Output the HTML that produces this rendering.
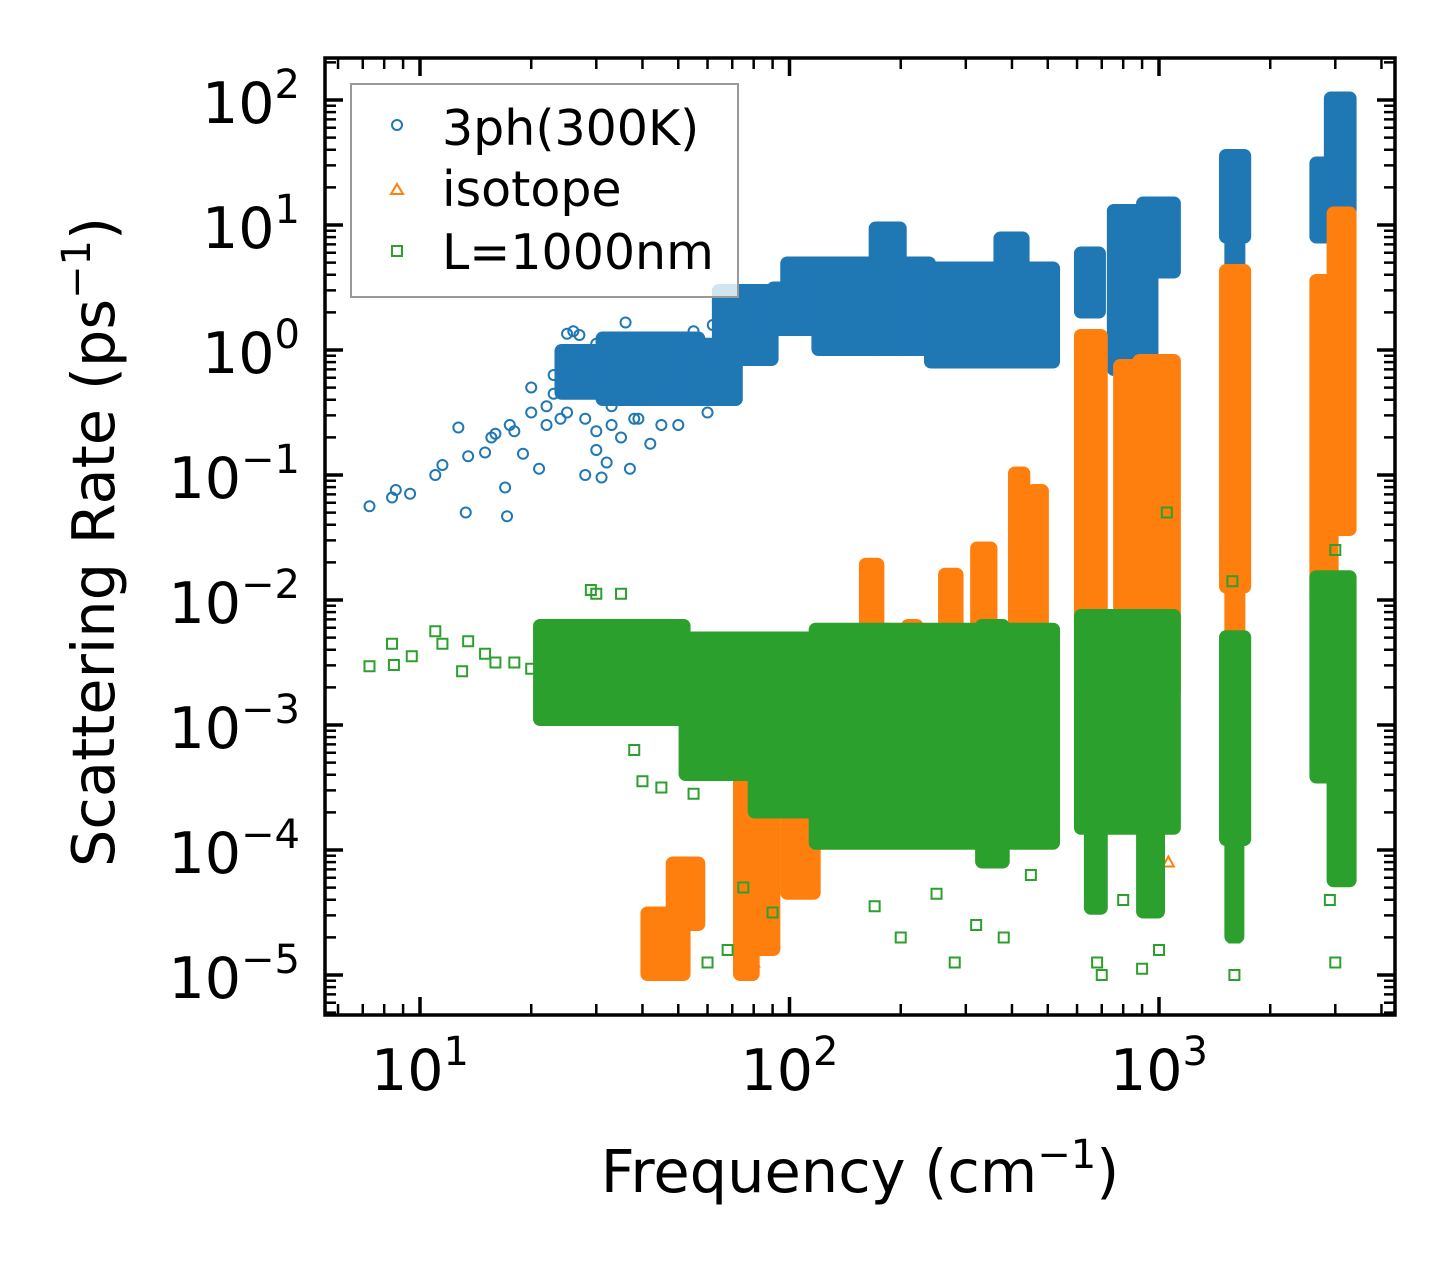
<!DOCTYPE html>
<html><head><meta charset="utf-8"><style>
html,body{margin:0;padding:0;background:#fff;}
svg{display:block;font-family:"DejaVu Sans","Liberation Sans",sans-serif;}
</style></head><body>
<svg id="chart" width="1455" height="1265" viewBox="0 0 1455 1265" xmlns="http://www.w3.org/2000/svg">
<rect x="0" y="0" width="1455" height="1265" fill="#fff"/>
<g id="marks"></g>
<g id="axes"></g>
<g>
<rect x="351" y="84" width="387" height="213" fill="#fff" fill-opacity="0.8" stroke="#999" stroke-width="2"/>
<circle cx="397" cy="125" r="5" fill="none" stroke="#1f77b4" stroke-width="2"/>
<text x="442" y="145" font-size="49">3ph(300K)</text>
<polygon points="397,184 403,194 391,194" fill="none" stroke="#ff7f0e" stroke-width="2"/>
<text x="442" y="206" font-size="49">isotope</text>
<rect x="392" y="246" width="10" height="10" fill="none" stroke="#2ca02c" stroke-width="2"/>
<text x="442" y="269" font-size="49">L=1000nm</text>
</g>
<text x="860" y="1192" font-size="59" text-anchor="middle">Frequency (cm<tspan dy="-24" font-size="40">−1</tspan><tspan dy="24">)</tspan></text>
<text transform="translate(114,542) rotate(-90)" font-size="59" text-anchor="middle">Scattering Rate (ps<tspan dy="-24" font-size="40">−1</tspan><tspan dy="24">)</tspan></text>
</svg>
<script>
// ---- data: [freqLo, freqHi, log10RateLo, log10RateHi] for dense regions; [freq, log10Rate] for isolated points ----
const blueBands = [[24,31,-0.35,0.0],[31,57,-0.4,0.1],[55,72,-0.4,0.05],[64,90,-0.08,0.48],[90,102,0.16,0.5],[98,119,0.16,0.7],[119,240,0.0,0.7],[170,200,0.0,0.98],[240,520,-0.1,0.66],[370,430,0.0,0.9],[611,692,0.3,0.78],[750,900,-0.16,1.12],[900,1104,0.62,1.18],[905,960,-0.38,0.6],[1509,1711,0.9,1.56],[1560,1650,0.54,0.9],[2900,3300,1.1,2.02],[2650,2950,0.9,1.5]];
const bluePoints = [[7.3,-1.25],[8.4,-1.18],[8.6,-1.12],[9.4,-1.15],[11,-1.0],[11.5,-0.92],[12.7,-0.62],[13.3,-1.3],[13.5,-0.85],[15,-0.82],[15.6,-0.7],[16,-0.67],[17,-1.1],[17.2,-1.33],[17.5,-0.6],[18,-0.65],[19,-0.83],[20,-0.5],[21,-0.95],[22,-0.6],[23,-0.35],[24,-0.55],[25,-0.25],[26,0.15],[27,-0.1],[28,-1.0],[30,-0.8],[31,-1.02],[32,-0.9],[33,-0.6],[35,-0.4],[37,-0.95],[39,-0.55],[42,-0.75],[45,-0.3],[50,-0.6],[58,-0.2],[62,0.2],[70,0.45],[20,-0.3],[22,-0.45],[23,-0.2],[25,-0.5],[27,-0.3],[28,-0.55],[30,-0.65],[33,-0.45],[35,-0.7],[38,-0.55],[25,0.13],[27,0.12],[30,0.05],[36,0.22],[55,0.15],[60,-0.5],[45,-0.6]];
const orangeBands = [[41,52,-5,-4.5],[48,57,-4.6,-4.1],[73,80,-5,-3.33],[83,91,-4.8,-3.6],[98,117,-4.35,-3.6],[160,174,-3.5,-1.71],[175,186,-3.2,-2.23],[208,222,-3.2,-2.2],[262,285,-3.0,-1.79],[320,352,-3.0,-1.58],[405,432,-3.0,-0.98],[455,485,-3.0,-1.12],[611,700,-2.73,0.12],[780,860,-2.73,-0.12],[880,1104,-2.73,-0.08],[1509,1711,-1.9,0.64],[1560,1650,-2.3,-1.9],[2650,2950,-2.0,0.56],[2950,3300,-1.44,1.1]];
const orangePoints = [[1060,-4.1],[3000,-1.8],[1600,-1.55],[2950,-1.0],[80,-4.9],[76,-4.7]];
const greenBands = [[21,52,-2.96,-2.2],[52,80,-3.4,-2.3],[80,117,-3.7,-2.3],[117,520,-3.95,-2.23],[330,380,-4.1,-2.2],[611,1104,-3.83,-2.12],[650,700,-4.47,-3.8],[900,1000,-4.5,-3.8],[1509,1711,-3.92,-2.29],[1560,1640,-4.7,-3.9],[2650,3300,-3.42,-1.81],[2950,3300,-4.25,-3.4]];
const greenPoints = [[7.3,-2.53],[8.4,-2.35],[8.5,-2.52],[9.5,-2.45],[11,-2.25],[11.5,-2.35],[13,-2.57],[13.5,-2.33],[15,-2.43],[16,-2.5],[18,-2.5],[20,-2.55],[22,-2.2],[24,-2.9],[29,-1.92],[30,-1.95],[35,-1.95],[38,-3.2],[40,-3.45],[45,-3.5],[55,-3.55],[60,-4.9],[68,-4.8],[75,-4.3],[90,-4.5],[120,-3.9],[170,-4.45],[200,-4.7],[250,-4.35],[280,-4.9],[320,-4.6],[380,-4.7],[680,-4.9],[700,-5.0],[800,-4.4],[900,-4.95],[1000,-4.8],[1050,-1.3],[1600,-5.0],[1600,-4.7],[3000,-4.9],[2900,-4.4],[450,-4.2],[1580,-1.85],[3000,-1.6]];
const xTicks = [1,2,3];
const yTicks = [2,1,0,-1,-2,-3,-4,-5];

const L=325,R=1395,T=58,B=1015;
function X(f){return 420+369.5*Math.log10(f/10);}
function Y(lg){return 350-125*lg;}
const NS="http://www.w3.org/2000/svg";
const marks=document.getElementById('marks'), axes=document.getElementById('axes');
function mk(tag,attrs,parent){const e=document.createElementNS(NS,tag);for(const k in attrs)e.setAttribute(k,attrs[k]);parent.appendChild(e);return e;}

function drawSeries(bands,points,color,shape,name){
  const g=mk('g',{},marks);
  
  
  bands.forEach(b=>{
    const x1=X(b[0])-6,x2=X(b[1])+6,y1=Y(b[3])-6,y2=Y(b[2])+6;
    const r=mk('rect',{x:x1,y:y1,width:x2-x1,height:y2-y1,rx:7,fill:color},g);
    
    
  });
  points.forEach(p=>{
    const cx=X(p[0]),cy=Y(p[1]);let e;
    if(shape==='c') e=mk('circle',{cx:cx,cy:cy,r:5,fill:'none',stroke:color,'stroke-width':2},g);
    else if(shape==='t') e=mk('polygon',{points:`${cx},${cy-6} ${cx+5.5},${cy+4} ${cx-5.5},${cy+4}`,fill:'none',stroke:color,'stroke-width':2},g);
    else e=mk('rect',{x:cx-5,y:cy-5,width:10,height:10,fill:'none',stroke:color,'stroke-width':2},g);
    
    
  });
}
drawSeries(blueBands,bluePoints,'#1f77b4','c','3ph');
drawSeries(orangeBands,orangePoints,'#ff7f0e','t','isotope');
drawSeries(greenBands,greenPoints,'#2ca02c','s','size-1000nm');

const fr=mk('rect',{x:L,y:T,width:R-L,height:B-T,fill:'none',stroke:'#000','stroke-width':3.5},axes);


for(let d=0;d<=3;d++){for(let m=1;m<10;m++){const f=Math.pow(10,d)*m;const x=X(f);if(x<L||x>R)continue;
  const len=m===1?18:11;
  mk('line',{x1:x,y1:B,x2:x,y2:B-len,stroke:'#000','stroke-width':m===1?3.5:2.5},axes);
  mk('line',{x1:x,y1:T,x2:x,y2:T+len,stroke:'#000','stroke-width':m===1?3.5:2.5},axes);
}}
xTicks.forEach(e=>{const t=mk('text',{x:X(Math.pow(10,e)),y:1090,'font-size':57,'text-anchor':'middle'},axes);
  
  
  t.innerHTML='10<tspan dy="-25" font-size="40">'+e+'</tspan>';});
for(let e=-6;e<=2;e++){for(let m=1;m<10;m++){const y=Y(e+Math.log10(m));if(y<T||y>B)continue;
  const len=m===1?18:11;
  mk('line',{x1:L,y1:y,x2:L+len,y2:y,stroke:'#000','stroke-width':m===1?3.5:2.5},axes);
  mk('line',{x1:R,y1:y,x2:R-len,y2:y,stroke:'#000','stroke-width':m===1?3.5:2.5},axes);
}}
yTicks.forEach(e=>{const t=mk('text',{x:300,y:Y(e)+23,'font-size':57,'text-anchor':'end'},axes);
  
  
  const s=e<0?'−'+(-e):String(e);
  t.innerHTML='10<tspan dy="-25" font-size="40">'+s+'</tspan>';});
</script>
</body></html>
